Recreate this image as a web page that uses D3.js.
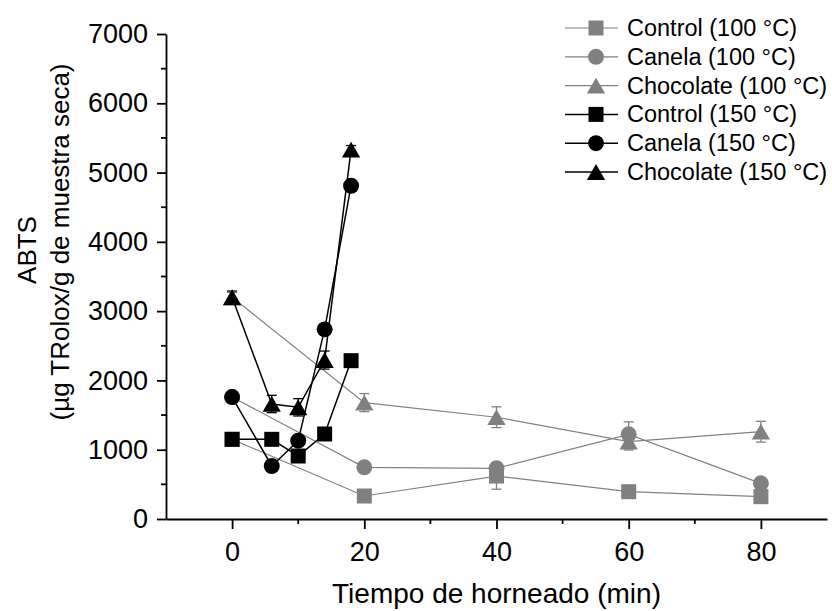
<!DOCTYPE html>
<meta charset="utf-8">
<script src="https://d3js.org/d3.v7.min.js"></script>
<style>
  body { margin: 0; background: #fff; }
  text { font-family: "Liberation Sans", Arial, sans-serif; fill: #000; }
</style>
<body>
<div id="chart"></div>
<script>
// sampling times (min)
var times100 = [0, 20, 40, 60, 80];
var times150 = [0, 6, 10, 14, 18];

// ABTS values (µg Trolox / g dry sample)
var control100   = [1150, 332, 620, 394, 322];
var canela100    = [1760, 746, 731, 1222, 515];
var chocolate100 = [3200, 1680, 1469, 1116, 1260];
var control150   = [1150, 1150, 909, 1227, 2285];
var canela150    = [1760, 765, 1130, 2737, 4810];
var chocolate150 = [3200, 1660, 1612, 2294, 5330];

// error bars (sd)
var errControl100   = [60, 60, 190, 50, 40];
var errCanela100    = [60, 60, 60, 180, 60];
var errChocolate100 = [70, 130, 150, 120, 150];
var errControl150   = [60, 40, 40, 40, 40];
var errCanela150    = [60, 40, 40, 60, 60];
var errChocolate150 = [90, 125, 125, 130, 60];

var seriesNames = ["Control (100 °C)", "Canela (100 °C)", "Chocolate (100 °C)",
                   "Control (150 °C)", "Canela (150 °C)", "Chocolate (150 °C)"];

var xTicks = [0, 20, 40, 60, 80];
var xMinor = [10, 30, 50, 70];
var yTicks = [0, 1000, 2000, 3000, 4000, 5000, 6000, 7000];
var yMinor = [500, 1500, 2500, 3500, 4500, 5500, 6500];

var W = 832, H = 611;
var grey = "#808080";

var series = [
  {name: seriesNames[0], t: times100, v: control100,   e: errControl100,   shape: "square",   color: grey},
  {name: seriesNames[1], t: times100, v: canela100,    e: errCanela100,    shape: "circle",   color: grey},
  {name: seriesNames[2], t: times100, v: chocolate100, e: errChocolate100, shape: "triangle", color: grey},
  {name: seriesNames[3], t: times150, v: control150,   e: errControl150,   shape: "square",   color: "#000"},
  {name: seriesNames[4], t: times150, v: canela150,    e: errCanela150,    shape: "circle",   color: "#000"},
  {name: seriesNames[5], t: times150, v: chocolate150, e: errChocolate150, shape: "triangle", color: "#000"}
];

var svg = d3.select("#chart").append("svg")
  .attr("width", W).attr("height", H);

var x = d3.scaleLinear().domain([-10, 90]).range([166, 827]);
var y = d3.scaleLinear().domain([0, 7000]).range([519, 34]);

// axes
var gx = svg.append("g").attr("transform", "translate(0," + y(0) + ")")
  .call(d3.axisBottom(x).tickValues(xTicks).tickSize(10).tickPadding(13).tickSizeOuter(0));
gx.selectAll(".tick text").style("font-size", "27px");
gx.append("g").selectAll("line").data(xMinor).enter().append("line")
  .attr("x1", d => x(d)).attr("x2", d => x(d)).attr("y1", 0).attr("y2", 5)
  .attr("stroke", "#000").attr("stroke-width", 1.8);

var gy = svg.append("g").attr("transform", "translate(" + x(-10) + ",0)")
  .call(d3.axisLeft(y).tickValues(yTicks).tickFormat(d3.format("d")).tickSize(9).tickPadding(9).tickSizeOuter(0));
gy.selectAll(".tick text").style("font-size", "27px");
gy.append("g").selectAll("line").data(yMinor).enter().append("line")
  .attr("y1", d => y(d)).attr("y2", d => y(d)).attr("x1", 0).attr("x2", -5)
  .attr("stroke", "#000").attr("stroke-width", 1.8);

svg.selectAll(".domain").attr("stroke-width", 1.8);
svg.selectAll(".tick line").attr("stroke-width", 1.8);

// axis titles
svg.append("text")
  .attr("x", (x(-10) + x(90)) / 2).attr("y", 603)
  .attr("text-anchor", "middle").style("font-size", "28px")
  .text("Tiempo de horneado (min)");

svg.append("text")
  .attr("transform", "translate(27,250) rotate(-90)")
  .attr("text-anchor", "middle").attr("dominant-baseline", "central")
  .style("font-size", "26px").text("ABTS");
svg.append("text")
  .attr("transform", "translate(60,242) rotate(-90)")
  .attr("text-anchor", "middle").attr("dominant-baseline", "central")
  .style("font-size", "26px").text("(µg TRolox/g de muestra seca)");

function symbolFor(shape) {
  if (shape === "square") return d3.symbol().type(d3.symbolSquare).size(225);
  if (shape === "circle") return d3.symbol().type(d3.symbolCircle).size(200);
  return d3.symbol().type(d3.symbolTriangle).size(145);
}

var line = d3.line().x(d => x(d[0])).y(d => y(d[1]));

series.forEach(function(s) {
  var pts = s.t.map((t, i) => [t, s.v[i], s.e[i]]);
  var g = svg.append("g");
  var sw = s.color === grey ? 1.2 : 1.5;

  g.append("path").datum(pts)
    .attr("d", line).attr("fill", "none")
    .attr("stroke", s.color).attr("stroke-width", sw);

  // error bars
  var eb = g.selectAll(".err").data(pts).enter().append("g");
  eb.append("line")
    .attr("x1", d => x(d[0])).attr("x2", d => x(d[0]))
    .attr("y1", d => y(d[1] - d[2])).attr("y2", d => y(d[1] + d[2]))
    .attr("stroke", s.color).attr("stroke-width", 1.3);
  [-1, 1].forEach(function(sign) {
    eb.append("line")
      .attr("x1", d => x(d[0]) - 5).attr("x2", d => x(d[0]) + 5)
      .attr("y1", d => y(d[1] + sign * d[2])).attr("y2", d => y(d[1] + sign * d[2]))
      .attr("stroke", s.color).attr("stroke-width", 1.3);
  });

  var dy = s.shape === "triangle" ? 2.6 : 0;
  g.selectAll(".mk").data(pts).enter().append("path")
    .attr("d", symbolFor(s.shape))
    .attr("transform", d => "translate(" + x(d[0]) + "," + (y(d[1]) + dy) + ")")
    .attr("fill", s.color);
});

// legend
var legend = svg.append("g");
series.forEach(function(s, i) {
  var ly = 28 + i * 28.8;
  legend.append("line").attr("x1", 565).attr("x2", 618).attr("y1", ly).attr("y2", ly)
    .attr("stroke", s.color).attr("stroke-width", s.color === grey ? 1.2 : 1.5);
  legend.append("path").attr("d", symbolFor(s.shape))
    .attr("transform", "translate(596," + (ly + (s.shape === "triangle" ? 2.6 : 0)) + ")")
    .attr("fill", s.color);
  legend.append("text").attr("x", 627).attr("y", ly)
    .attr("dominant-baseline", "central").style("font-size", "23.5px")
    .text(s.name);
});
</script>
</body>
